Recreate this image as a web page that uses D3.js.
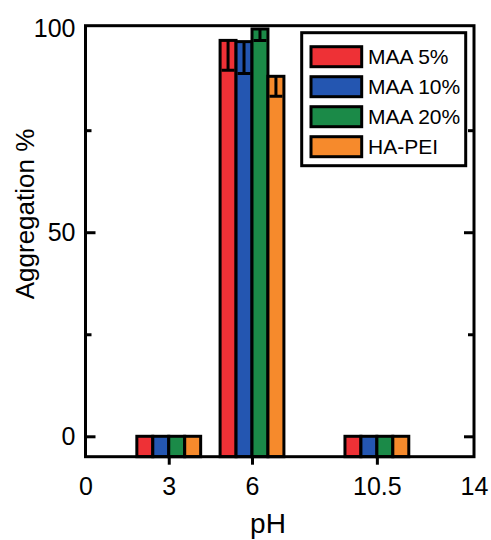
<!DOCTYPE html>
<html>
<head>
<meta charset="utf-8">
<script src="https://cdn.jsdelivr.net/npm/d3@7"></script>
<style>
    body { margin: 0; background: #fff; }
    svg { display: block; font-family: 'Liberation Sans', Arial, sans-serif; }
</style>
</head>
<body>
<div id="chart"></div>
<script>
/*global d3: false*/

var phValues = [3, 6, 10.5];
var xTickValues = [0, 3, 6, 10.5, 14];
var xTickLabels = ['0', '3', '6', '10.5', '14'];
var yTickValues = [0, 50, 100];
var yMinorTicks = [25, 75];

var seriesNames = ['MAA 5%', 'MAA 10%', 'MAA 20%', 'HA-PEI'];
var seriesColors = ['#ee3136', '#2456b1', '#1b8a48', '#f68a2c'];
var maa5 = [0, 97.0, 0];
var maa10 = [0, 96.7, 0];
var maa20 = [0, 99.8, 0];
var haPei = [0, 88.2, 0];
var maa5Err = [0, 7.3, 0];
var maa10Err = [0, 7.8, 0];
var maa20Err = [0, 2.8, 0];
var haPeiErr = [0, 4.9, 0];

(function() {
    'use strict';
    var width, height, svg, x, y, left, right, top, bottom, groupW, barW,
        seriesValues, seriesErrors, bars, i, j, legend, xAxis;

    width = 491;
    height = 540;
    left = 85.5;
    right = 474;
    top = 25.7;
    bottom = 456.7;

    svg = d3.select('#chart').append('svg')
        .attr('width', width)
        .attr('height', height);

    x = d3.scaleLinear().domain([0, 14]).range([left, right]);
    y = d3.scaleLinear().domain([-5, 100.6]).range([bottom, top]);

    seriesValues = [maa5, maa10, maa20, haPei];
    seriesErrors = [maa5Err, maa10Err, maa20Err, haPeiErr];
    groupW = 2.3;
    barW = groupW / seriesNames.length;

    // Bars
    bars = [];
    for (i = 0; i < seriesNames.length; i++) {
        for (j = 0; j < phValues.length; j++) {
            bars.push({s: i, ph: phValues[j], v: seriesValues[i][j], e: seriesErrors[i][j]});
        }
    }
    svg.append('g').selectAll('rect')
        .data(bars)
        .join('rect')
        .attr('x', function(d) { return x(d.ph - groupW / 2 + d.s * barW); })
        .attr('y', function(d) { return y(d.v); })
        .attr('width', function(d) { return x(barW) - x(0); })
        .attr('height', function(d) { return y(-5) - y(d.v); })
        .attr('fill', function(d) { return seriesColors[d.s]; })
        .attr('stroke', 'black')
        .attr('stroke-width', 3);

    // Error bars (below the mean, inside the bar)
    svg.append('g').selectAll('path')
        .data(bars.filter(function(d) { return d.e > 0; }))
        .join('path')
        .attr('d', function(d) {
            var cx = x(d.ph - groupW / 2 + (d.s + 0.5) * barW);
            return 'M' + cx + ',' + y(d.v) + 'V' + y(d.v - d.e) +
                'M' + (cx - 6.5) + ',' + y(d.v - d.e) + 'H' + (cx + 6.5);
        })
        .attr('fill', 'none')
        .attr('stroke', 'black')
        .attr('stroke-width', 3);

    // Frame
    svg.append('rect')
        .attr('x', left)
        .attr('y', top)
        .attr('width', right - left)
        .attr('height', bottom - top)
        .attr('fill', 'none')
        .attr('stroke', 'black')
        .attr('stroke-width', 3);

    // Left axis
    svg.append('g')
        .attr('transform', 'translate(' + left + ',0)')
        .call(d3.axisLeft(y).tickValues(yTickValues).tickSize(-10).tickPadding(10))
        .call(function(g) {
            g.select('.domain').remove();
            g.selectAll('line').attr('stroke-width', 3)
                .filter(function(d) { return d === 100; }).remove();
            g.selectAll('text').attr('font-size', 25).attr('font-family', null).attr('fill', 'black');
        });
    svg.append('g')
        .attr('transform', 'translate(' + left + ',0)')
        .call(d3.axisLeft(y).tickValues(yMinorTicks).tickSize(-6).tickFormat(''))
        .call(function(g) {
            g.select('.domain').remove();
            g.selectAll('line').attr('stroke-width', 3);
        });

    // Right axis
    svg.append('g')
        .attr('transform', 'translate(' + right + ',0)')
        .call(d3.axisRight(y).tickValues([0, 50]).tickSize(-10).tickFormat(''))
        .call(function(g) {
            g.select('.domain').remove();
            g.selectAll('line').attr('stroke-width', 3);
        });
    svg.append('g')
        .attr('transform', 'translate(' + right + ',0)')
        .call(d3.axisRight(y).tickValues(yMinorTicks).tickSize(-6).tickFormat(''))
        .call(function(g) {
            g.select('.domain').remove();
            g.selectAll('line').attr('stroke-width', 3);
        });

    // Bottom axis
    xAxis = d3.axisBottom(x)
        .tickValues(xTickValues)
        .tickSize(8)
        .tickFormat(function(d, k) { return xTickLabels[k]; });
    svg.append('g')
        .attr('transform', 'translate(0,' + bottom + ')')
        .call(xAxis)
        .call(function(g) {
            g.select('.domain').remove();
            g.selectAll('line').attr('stroke-width', 3)
                .filter(function(d) { return d === 0 || d === 14; }).remove();
            g.selectAll('text')
                .attr('y', 38)
                .attr('dy', 0)
                .attr('font-size', 25)
                .attr('font-family', null)
                .attr('fill', 'black');
        });

    // Axis titles
    svg.append('text')
        .attr('x', 268)
        .attr('y', 533)
        .attr('text-anchor', 'middle')
        .attr('font-size', 28)
        .text('pH');
    svg.append('text')
        .attr('transform', 'translate(34,214) rotate(-90)')
        .attr('text-anchor', 'middle')
        .attr('font-size', 26)
        .text('Aggregation %');

    // Legend
    legend = svg.append('g');
    legend.append('rect')
        .attr('x', 301.7)
        .attr('y', 32.7)
        .attr('width', 164)
        .attr('height', 133)
        .attr('fill', 'white')
        .attr('stroke', 'black')
        .attr('stroke-width', 3);
    legend.selectAll('g.item')
        .data(seriesNames)
        .join('g')
        .attr('class', 'item')
        .attr('transform', function(d, k) { return 'translate(311,' + (46.7 + k * 30) + ')'; })
        .each(function(d, k) {
            var item = d3.select(this);
            item.append('rect')
                .attr('width', 50.7)
                .attr('height', 20)
                .attr('fill', seriesColors[k])
                .attr('stroke', 'black')
                .attr('stroke-width', 3);
            item.append('text')
                .attr('x', 57)
                .attr('y', 17.5)
                .attr('font-size', 21)
                .text(d);
        });
}());
</script>
</body>
</html>
